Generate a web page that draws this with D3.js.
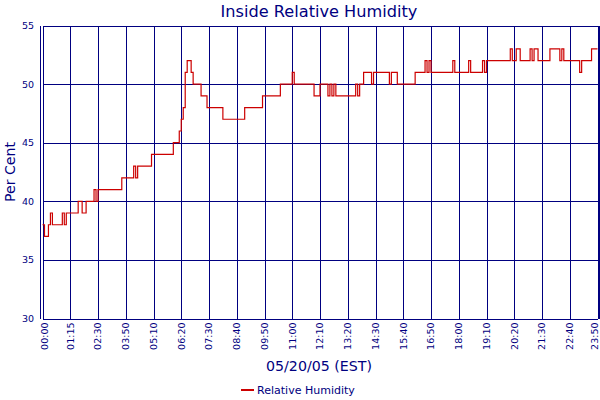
<!DOCTYPE html>
<html><head><meta charset="utf-8">
<script src="https://cdn.jsdelivr.net/npm/d3@7"></script>
<style>
body{margin:0;background:#fff}
svg{display:block}
text{font-family:"DejaVu Sans",Verdana,sans-serif}
</style>
</head><body>
<svg id="c" width="600" height="400"></svg>
<script>
const chartTitle = "Inside Relative Humidity";
const yTitle = "Per Cent";
const xTitle = "05/20/05 (EST)";
const seriesName = "Relative Humidity";
const timeLabels = ["00:00","01:15","02:30","03:50","05:10","06:20","07:30","08:40","09:50","11:00",
  "12:10","13:20","14:30","15:40","16:50","18:00","19:10","20:20","21:30","22:40","23:50"];
const yTicks = [30,35,40,45,50,55];
const humidity = [
  38,37,37,38,39,38,38,38,38,38,39,38,39,39,
  39,39,39,39,40,40,39,39,40,40,40,40,41,40,
  41,41,41,41,41,41,41,41,41,41,41,41,42,42,
  42,42,42,42,43,42,43,43,43,43,43,43,43,44,
  44,44,44,44,44,44,44,44,44,44,45,45,45,46,
  47,48,51,52,52,51,50,50,50,50,49,49,49,48,
  48,48,48,48,48,48,48,47,47,47,47,47,47,47,
  47,47,47,47,48,48,48,48,48,48,48,48,48,49,
  49,49,49,49,49,49,49,49,50,50,50,50,50,50,
  51,50,50,50,50,50,50,50,50,50,50,49,49,49,
  50,50,50,50,49,50,49,50,49,49,49,49,49,49,
  49,49,49,49,50,49,50,50,51,51,51,51,50,51,
  51,51,51,51,51,51,51,50,51,51,51,50,50,50,
  50,50,50,50,50,50,51,51,51,51,51,52,51,52,
  51,51,51,51,51,51,51,51,51,51,51,52,51,51,
  51,51,51,51,51,52,51,51,51,51,51,51,52,51,
  52,52,52,52,52,52,52,52,52,52,52,52,53,52,
  52,53,53,52,52,52,52,52,53,52,53,53,52,52,
  52,52,52,52,53,53,53,53,53,52,53,52,52,52,
  52,52,52,52,52,51,52,52,52,52,52,53,53,53,
  53];

const navy = "#000080", red = "#cc0000";
const svg = d3.select("#c");

const x = d3.scaleLinear().domain([0, humidity.length - 1]).range([42.5, 597.5]);
const y = d3.scaleLinear().domain([30, 55]).range([318.5, 25.5]);
const [x0, x1] = x.range();
const [yb, yt] = y.range();
const step = (humidity.length - 1) / (timeLabels.length - 1);

// vertical grid + x labels
const gx = svg.append("g").attr("transform", `translate(0,${yb})`)
  .call(d3.axisBottom(x)
    .tickValues(timeLabels.map((t, k) => k * step))
    .tickFormat((d, k) => timeLabels[k])
    .tickSizeInner(-(yb - yt)).tickSizeOuter(0));
gx.select(".domain").attr("stroke", navy).attr("shape-rendering", "crispEdges");
gx.selectAll(".tick line").attr("stroke", navy).attr("shape-rendering", "crispEdges");
const nT = timeLabels.length;
gx.selectAll(".tick text")
  .attr("fill", navy).style("font-size", "9.5px")
  .attr("transform", (d, k) => `translate(${k === 0 ? 1.5 : (k === nT - 1 ? -3 : -0.5)},0) rotate(-90)`)
  .attr("text-anchor", "end").attr("x", -4).attr("y", 0).attr("dy", "0.36em");

// horizontal grid + y labels
const gy = svg.append("g").attr("transform", `translate(${x0},0)`)
  .call(d3.axisLeft(y).tickValues(yTicks).tickFormat(d3.format("d"))
    .tickSizeInner(-(x1 - x0)).tickSizeOuter(0).tickPadding(8.5));
gy.select(".domain").remove();
gy.selectAll(".tick line").attr("stroke", navy).attr("shape-rendering", "crispEdges");
gy.selectAll(".tick text").attr("fill", navy).style("font-size", "9.5px");

// outer frame lines (double-line look)
svg.append("g").selectAll("line").data([x0 - 2, x1 + 2]).join("line")
  .attr("x1", d => d).attr("x2", d => d).attr("y1", yt).attr("y2", yb)
  .attr("stroke", navy).attr("shape-rendering", "crispEdges");

// data line
svg.append("path").datum(humidity)
  .attr("fill", "none").attr("stroke", red).attr("stroke-width", 1.2)
  .attr("d", d3.line().x((d, i) => x(i)).y(d => y(d)).curve(d3.curveStepAfter));

function fit(sel, w) {
  const fs = parseFloat(sel.style("font-size"));
  const l = sel.node().getComputedTextLength();
  sel.style("font-size", (fs * w / l) + "px");
  return sel;
}
const cx = (x0 + x1) / 2 - 1;

fit(svg.append("text").attr("x", cx).attr("y", 17).attr("text-anchor", "middle")
  .attr("fill", navy).style("font-size", "16px").text(chartTitle), 197);

fit(svg.append("text").attr("x", cx).attr("y", 371).attr("text-anchor", "middle")
  .attr("fill", navy).style("font-size", "16px").text(xTitle), 106);

fit(svg.append("text").attr("transform", `translate(14.5,${(yt + yb) / 2}) rotate(-90)`)
  .attr("text-anchor", "middle").attr("fill", navy).style("font-size", "16px").text(yTitle), 60);

// legend
const lg = svg.append("g");
lg.append("line").attr("x1", 241).attr("x2", 254).attr("y1", 390).attr("y2", 390)
  .attr("stroke", red).attr("stroke-width", 2);
fit(lg.append("text").attr("x", 257).attr("y", 394).attr("fill", navy)
  .style("font-size", "12px").text(seriesName), 98);
</script>
</body></html>
